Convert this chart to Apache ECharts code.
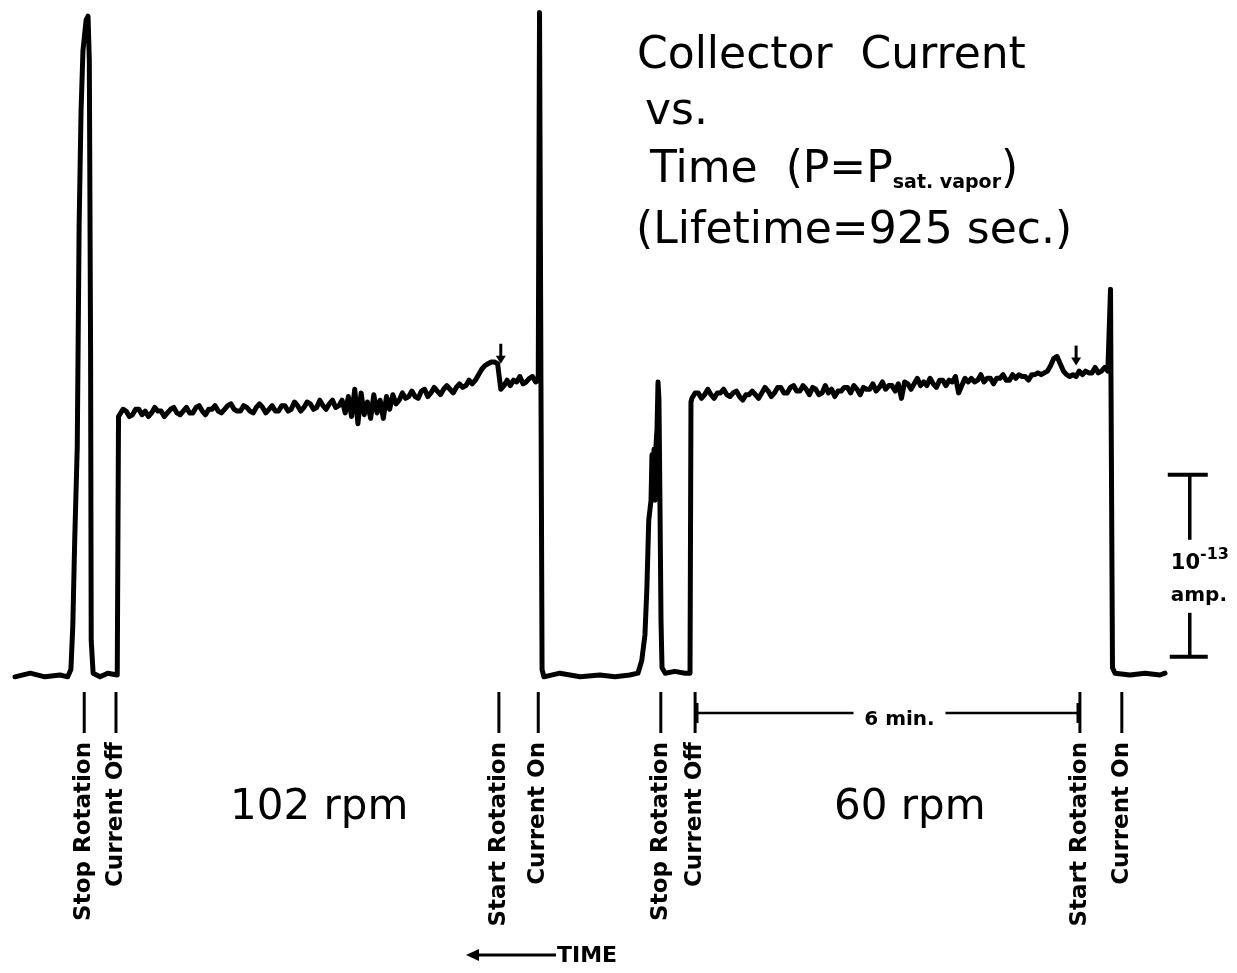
<!DOCTYPE html>
<html>
<head>
<meta charset="utf-8">
<script src="https://cdn.jsdelivr.net/npm/echarts@6/dist/echarts.min.js"></script>
<style>
  html, body { margin: 0; padding: 0; background: #fff; }
  #chart { width: 1237px; height: 973px; }
</style>
</head>
<body>
<div id="chart"></div>
<script>
// Strip-chart record. Time in minutes, running leftward (0 = end of the record),
// current in units of 1e-13 amp above the zero baseline.

// baseline, first "stop rotation" peak, then the step up when the current goes off
const peak1 = [
  [18.11, -0.01], [17.87, 0.01], [17.64, -0.01], [17.40, 0.00], [17.28, -0.01], [17.23, 0.03],
  [17.20, 0.27], [17.17, 0.74], [17.13, 1.25], [17.10, 2.48], [17.07, 3.10], [17.04, 3.43],
  [16.99, 3.60], [16.96, 3.62], [16.94, 3.38], [16.92, 1.79], [16.91, 0.19], [16.88, 0.01],
  [16.77, -0.01], [16.65, 0.01], [16.50, 0.00], [16.48, 1.42]
]

// 102 rpm plateau, read every 0.05 min
const sampleStep = 0.05
const plateau1Start = 16.46
const plateau1 = [
  1.43, 1.46, 1.45, 1.42, 1.43, 1.46, 1.46, 1.43, 1.45, 1.42,
  1.44, 1.47, 1.45, 1.45, 1.42, 1.44, 1.46, 1.47, 1.44, 1.43,
  1.45, 1.47, 1.44, 1.44, 1.47, 1.48, 1.45, 1.43, 1.46, 1.46,
  1.48, 1.45, 1.44, 1.46, 1.48, 1.49, 1.46, 1.45, 1.45, 1.48,
  1.47, 1.45, 1.44, 1.47, 1.49, 1.47, 1.44, 1.46, 1.48, 1.45,
  1.45, 1.48, 1.48, 1.45, 1.46, 1.50, 1.48, 1.45, 1.47, 1.50,
  1.49, 1.46, 1.47, 1.51, 1.48, 1.46, 1.49, 1.51, 1.47, 1.48,
  1.51, 1.44, 1.53, 1.42, 1.57, 1.38, 1.55, 1.43, 1.50, 1.41,
  1.54, 1.44, 1.51, 1.41, 1.53, 1.46, 1.54, 1.49, 1.51, 1.55,
  1.52, 1.53, 1.56, 1.53, 1.52, 1.56, 1.57, 1.53, 1.55, 1.58,
  1.56, 1.54, 1.57, 1.59, 1.57, 1.55, 1.58, 1.60, 1.58, 1.59,
  1.62, 1.60, 1.62, 1.65, 1.68, 1.70, 1.71, 1.72, 1.72, 1.71,
  1.57, 1.59, 1.62, 1.59, 1.62, 1.61, 1.64, 1.60, 1.61, 1.63, 1.64, 1.61
]

// current-on spike, baseline, second peak, step up again
const spike1 = [
  [9.87, 1.62], [9.85, 3.64], [9.83, 3.64], [9.81, 0.03], [9.78, -0.01], [9.53, 0.01],
  [9.21, -0.01], [8.90, 0.00], [8.66, -0.01], [8.43, 0.00], [8.30, 0.01], [8.24, 0.08],
  [8.19, 0.22], [8.16, 0.47], [8.13, 0.85], [8.094, 0.96], [8.079, 1.21], [8.063, 0.99],
  [8.047, 1.24], [8.031, 0.96], [8.016, 1.26], [8.000, 1.35], [7.984, 1.61], [7.969, 1.51],
  [7.953, 0.93], [7.937, 0.30], [7.921, 0.04], [7.87, 0.01], [7.72, 0.02], [7.56, 0.01],
  [7.48, 0.01], [7.465, 1.50]
]

// 60 rpm plateau
const plateau2Start = 7.45
const plateau2 = [
  1.52, 1.55, 1.55, 1.52, 1.54, 1.57, 1.54, 1.52, 1.55, 1.55,
  1.57, 1.54, 1.53, 1.55, 1.56, 1.53, 1.51, 1.54, 1.54, 1.56,
  1.54, 1.52, 1.55, 1.58, 1.56, 1.53, 1.55, 1.58, 1.58, 1.55,
  1.55, 1.58, 1.59, 1.56, 1.56, 1.59, 1.57, 1.54, 1.58, 1.57,
  1.54, 1.55, 1.59, 1.55, 1.57, 1.53, 1.56, 1.56, 1.58, 1.58,
  1.55, 1.59, 1.57, 1.54, 1.58, 1.57, 1.57, 1.60, 1.56, 1.58,
  1.61, 1.57, 1.59, 1.59, 1.56, 1.60, 1.52, 1.61, 1.60, 1.57,
  1.60, 1.63, 1.59, 1.61, 1.59, 1.63, 1.60, 1.58, 1.62, 1.62,
  1.59, 1.62, 1.61, 1.64, 1.55, 1.59, 1.63, 1.61, 1.63, 1.61,
  1.62, 1.65, 1.61, 1.63, 1.63, 1.60, 1.63, 1.63, 1.65, 1.62,
  1.62, 1.65, 1.63, 1.65, 1.64, 1.64, 1.62, 1.65, 1.65, 1.66,
  1.65, 1.66, 1.67, 1.70, 1.74, 1.75, 1.71, 1.67, 1.65, 1.64,
  1.65, 1.64, 1.67, 1.65, 1.67, 1.66, 1.66, 1.69, 1.66, 1.67, 1.69, 1.67
]

// final current-on spike and tail of the record
const spike2 = [
  [0.874, 1.67], [0.858, 2.12], [0.843, 2.12], [0.827, 0.04], [0.787, 0.01],
  [0.551, 0.00], [0.315, 0.01], [0.079, 0.00], [0.00, 0.01]
]

// event marks under the trace
const eventTimes = [17.02, 16.52, 10.49, 9.87, 7.94, 7.40, 1.34, 0.68]
const eventLabels = [
  "Stop Rotation", "Current Off", "Start Rotation", "Current On",
  "Stop Rotation", "Current Off", "Start Rotation", "Current On"
]

// small arrows over the trace at start of rotation: [time, top, bottom]
const arrowMarks = [[10.46, 1.82, 1.71], [1.40, 1.81, 1.70]]

// rotation speeds written between the marks
const speedTimes = [13.32, 4.02]
const speedLabels = ["102 rpm", "60 rpm"]

// 6 minute time bracket and the 1e-13 amp scale bar
const timeBar = [7.37, 1.37]
const timeBarLabel = "6 min."
const scaleBarTime = -0.39
const scaleBar = [0.1, 1.1]

function sampled(t0, dt, values) {
  return values.map((v, i) => [+(t0 - i * dt).toFixed(3), v])
}

const trace = [
  ...peak1,
  ...sampled(plateau1Start, sampleStep, plateau1),
  ...spike1,
  ...sampled(plateau2Start, sampleStep, plateau2),
  ...spike2
]

const INK = "#000"
const labelFont = 'bold 23px "DejaVu Sans"'

function renderEvent(params, api) {
  const p = api.coord([api.value(0), 0])
  const label = eventLabels[api.value(1)]
  return {
    type: "group",
    children: [
      {
        type: "line",
        shape: { x1: p[0], y1: p[1] + 17, x2: p[0], y2: p[1] + 58 },
        style: { stroke: INK, lineWidth: 3 }
      },
      {
        type: "text",
        x: p[0],
        y: p[1] + 67,
        rotation: Math.PI / 2,
        style: { text: label, font: labelFont, fill: INK, align: "right", verticalAlign: "middle" }
      }
    ]
  }
}

function renderArrow(params, api) {
  const top = api.coord([api.value(0), api.value(1)])
  const bottom = api.coord([api.value(0), api.value(2)])
  return {
    type: "group",
    children: [
      {
        type: "line",
        shape: { x1: top[0], y1: top[1], x2: bottom[0], y2: bottom[1] - 4 },
        style: { stroke: INK, lineWidth: 3 }
      },
      {
        type: "polygon",
        shape: { points: [[bottom[0] - 5, bottom[1] - 8], [bottom[0] + 5, bottom[1] - 8], [bottom[0], bottom[1]]] },
        style: { fill: INK }
      }
    ]
  }
}

function renderSpeed(params, api) {
  const p = api.coord([api.value(0), 0])
  return {
    type: "text",
    x: p[0],
    y: p[1] + 133,
    style: {
      text: speedLabels[api.value(1)],
      font: '42px "DejaVu Sans"',
      fill: INK,
      align: "center",
      verticalAlign: "middle"
    }
  }
}

function renderTimeBar(params, api) {
  const a = api.coord([api.value(0), 0])
  const b = api.coord([api.value(1), 0])
  const y = a[1] + 38
  const mid = (a[0] + b[0]) / 2 + 12
  return {
    type: "group",
    children: [
      { type: "line", shape: { x1: a[0], y1: y, x2: mid - 46, y2: y }, style: { stroke: INK, lineWidth: 2.5 } },
      { type: "line", shape: { x1: mid + 46, y1: y, x2: b[0], y2: y }, style: { stroke: INK, lineWidth: 2.5 } },
      { type: "line", shape: { x1: a[0], y1: y - 10, x2: a[0], y2: y + 10 }, style: { stroke: INK, lineWidth: 3 } },
      { type: "line", shape: { x1: b[0], y1: y - 10, x2: b[0], y2: y + 10 }, style: { stroke: INK, lineWidth: 3 } },
      {
        type: "text",
        x: mid,
        y: y + 7,
        style: { text: timeBarLabel, font: 'bold 20px "DejaVu Sans"', fill: INK, align: "center", verticalAlign: "middle" }
      }
    ]
  }
}

function renderScaleBar(params, api) {
  const lo = api.coord([api.value(0), api.value(1)])
  const hi = api.coord([api.value(0), api.value(2)])
  const x = lo[0]
  const midY = (lo[1] + hi[1]) / 2
  return {
    type: "group",
    children: [
      { type: "line", shape: { x1: x - 22, y1: hi[1], x2: x + 18, y2: hi[1] }, style: { stroke: INK, lineWidth: 4 } },
      { type: "line", shape: { x1: x - 20, y1: lo[1], x2: x + 18, y2: lo[1] }, style: { stroke: INK, lineWidth: 4 } },
      { type: "line", shape: { x1: x, y1: hi[1], x2: x, y2: midY - 26 }, style: { stroke: INK, lineWidth: 3.5 } },
      { type: "line", shape: { x1: x, y1: midY + 47, x2: x, y2: lo[1] }, style: { stroke: INK, lineWidth: 3.5 } },
      {
        type: "text",
        x: x - 19,
        y: midY - 2,
        style: {
          text: "10{sup|-13}",
          font: 'bold 21px "DejaVu Sans"',
          fill: INK,
          align: "left",
          verticalAlign: "middle",
          rich: {
            sup: { font: 'bold 16px "DejaVu Sans"', fill: INK, verticalAlign: "top", lineHeight: 34 }
          }
        }
      },
      {
        type: "text",
        x: x - 19,
        y: midY + 30,
        style: { text: "amp.", font: 'bold 20px "DejaVu Sans"', fill: INK, align: "left", verticalAlign: "middle" }
      }
    ]
  }
}

const titleFont = '44px "DejaVu Sans"'

const chart = echarts.init(document.getElementById("chart"))
chart.setOption({
  animation: false,
  backgroundColor: "#fff",
  grid: { left: 9.3, width: 1219.2, top: 1.6, height: 764.4 },
  xAxis: { type: "value", inverse: true, min: -1, max: 18.2, show: false },
  yAxis: { type: "value", min: -0.5, max: 3.7, show: false },
  graphic: [
    { type: "text", x: 637, y: 57, style: { text: "Collector  Current", font: titleFont, fill: INK, verticalAlign: "middle" } },
    { type: "text", x: 645, y: 113, style: { text: "vs.", font: titleFont, fill: INK, verticalAlign: "middle" } },
    {
      type: "text",
      x: 650,
      y: 171,
      style: {
        text: "Time  (P=P{sub|sat. vapor})",
        font: titleFont,
        fill: INK,
        verticalAlign: "middle",
        rich: { sub: { font: 'bold 19px "DejaVu Sans"', fill: INK, verticalAlign: "bottom" } }
      }
    },
    { type: "text", x: 636, y: 232, style: { text: "(Lifetime=925 sec.)", font: titleFont, fill: INK, verticalAlign: "middle" } },
    { type: "line", shape: { x1: 474, y1: 955, x2: 556, y2: 955 }, style: { stroke: INK, lineWidth: 3 } },
    { type: "polygon", shape: { points: [[466, 955], [479, 949], [479, 961]] }, style: { fill: INK } },
    { type: "text", x: 557, y: 956, style: { text: "TIME", font: 'bold 22px "DejaVu Sans"', fill: INK, verticalAlign: "middle" } }
  ],
  series: [
    {
      type: "line",
      data: trace,
      showSymbol: false,
      silent: true,
      lineStyle: { color: INK, width: 5, join: "round", cap: "round" }
    },
    {
      type: "custom",
      clip: false,
      silent: true,
      renderItem: renderEvent,
      data: eventTimes.map((t, i) => [t, i])
    },
    {
      type: "custom",
      clip: false,
      silent: true,
      renderItem: renderArrow,
      data: arrowMarks
    },
    {
      type: "custom",
      clip: false,
      silent: true,
      renderItem: renderSpeed,
      data: speedTimes.map((t, i) => [t, i])
    },
    {
      type: "custom",
      clip: false,
      silent: true,
      renderItem: renderTimeBar,
      data: [timeBar]
    },
    {
      type: "custom",
      clip: false,
      silent: true,
      renderItem: renderScaleBar,
      data: [[scaleBarTime, scaleBar[0], scaleBar[1]]]
    }
  ]
})
</script>
</body>
</html>
